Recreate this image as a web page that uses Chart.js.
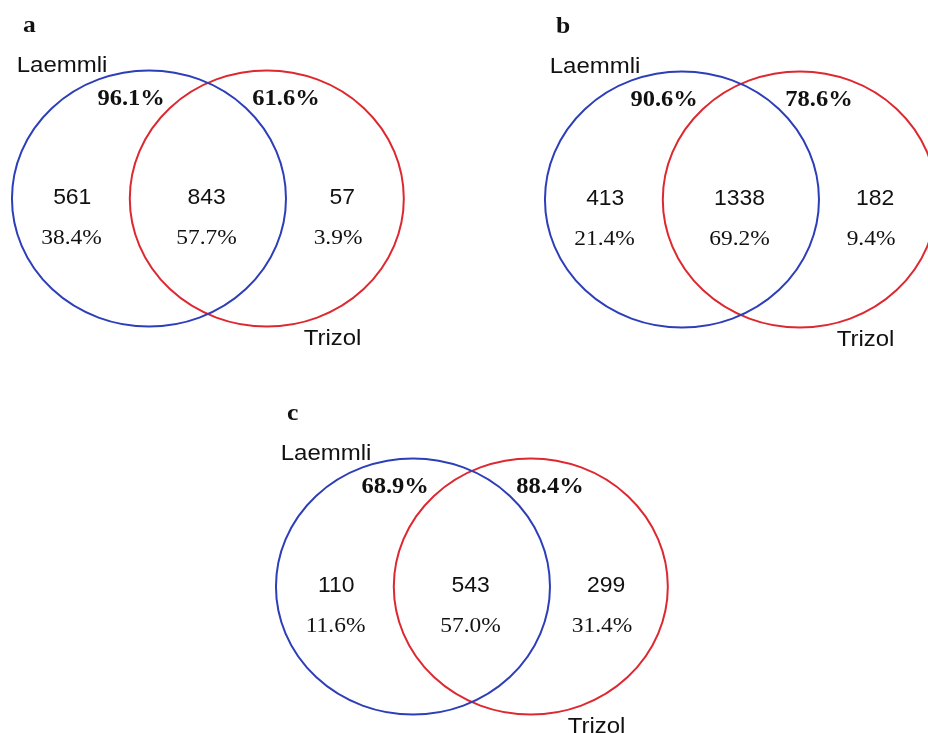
<!DOCTYPE html>
<html>
<head>
<meta charset="utf-8">
<script src="https://cdn.jsdelivr.net/npm/chart.js@4.4.1/dist/chart.umd.min.js"></script>
<style>
    html, body { margin: 0; padding: 0; background: #fff; width: 928px; height: 733px; overflow: hidden; }
    .panel { position: absolute; width: 422px; height: 365px; }
    #panelA { left: 1px; top: 0px; }
    #panelB { left: 534px; top: 1px; }
    #panelC { left: 265px; top: 388px; }
</style>
</head>
<body>
<div class="panel" id="panelA"><canvas id="vennA"></canvas></div>
<div class="panel" id="panelB"><canvas id="vennB"></canvas></div>
<div class="panel" id="panelC"><canvas id="vennC"></canvas></div>

<script>
// data
var panelLetters = ['a', 'b', 'c'];
var setNames = ['Laemmli', 'Trizol'];
var onlyLaemmli = [561, 413, 110];
var shared = [843, 1338, 543];
var onlyTrizol = [57, 182, 299];
var onlyLaemmliPct = [38.4, 21.4, 11.6];
var sharedPct = [57.7, 69.2, 57.0];
var onlyTrizolPct = [3.9, 9.4, 31.4];
var laemmliCoverage = [96.1, 90.6, 68.9];
var trizolCoverage = [61.6, 78.6, 88.4];
// circle separation, in radii
var circleOffset = 0.86;

var SANS = '"Liberation Sans", Arial, sans-serif';
var SERIF = '"Liberation Serif", "Times New Roman", serif';
// the published figure is a little wider than tall
var TEXT_STRETCH = 1.066;

var vennPlugin = {
    id: 'vennLabels',
    beforeDatasetDraw: function (chart, args) {
        var ctx = chart.ctx;
        var xs = chart.scales.x, ys = chart.scales.y;
        var ds = chart.data.datasets[args.index];

        ds.data.forEach(function (p) {
            var cx = xs.getPixelForValue(p.x), cy = ys.getPixelForValue(p.y);
            var rx = xs.getPixelForValue(p.x + p.r) - cx;
            var ry = cy - ys.getPixelForValue(p.y + p.r);
            ctx.save();
            ctx.beginPath();
            ctx.ellipse(cx, cy, rx, ry, 0, 0, Math.PI * 2);
            ctx.lineWidth = ds.borderWidth;
            ctx.strokeStyle = ds.borderColor;
            ctx.stroke();
            ctx.restore();
        });
        return false;
    },
    afterDatasetsDraw: function (chart, args, opts) {
        var i = opts.panel;
        var ctx = chart.ctx;
        var xs = chart.scales.x, ys = chart.scales.y;
        var L = 0, R = circleOffset;

        function put(text, ux, uy, font, align) {
            ctx.save();
            ctx.translate(xs.getPixelForValue(ux), ys.getPixelForValue(uy));
            ctx.scale(TEXT_STRETCH, 1);
            ctx.font = font;
            ctx.fillStyle = '#111';
            ctx.textAlign = align || 'center';
            ctx.textBaseline = 'alphabetic';
            ctx.fillText(text, 0, 0);
            ctx.restore();
        }

        put(panelLetters[i], L - 0.92, 1.30, 'bold 24px ' + SERIF, 'left');
        put(setNames[0], L - 0.965, 0.99, '22.5px ' + SANS, 'left');
        put(setNames[1], R + 0.48, -1.146, '22.5px ' + SANS);

        put(laemmliCoverage[i].toFixed(1) + '%', L - 0.13, 0.73, 'bold 23px ' + SERIF);
        put(trizolCoverage[i].toFixed(1) + '%', R + 0.14, 0.73, 'bold 23px ' + SERIF);

        put(String(onlyLaemmli[i]), L - 0.56, -0.045, '21.5px ' + SANS);
        put(onlyLaemmliPct[i].toFixed(1) + '%', L - 0.565, -0.355, '22px ' + SERIF);

        put(String(shared[i]), (L + R) / 2 - 0.01, -0.045, '21.5px ' + SANS);
        put(sharedPct[i].toFixed(1) + '%', (L + R) / 2 - 0.01, -0.355, '22px ' + SERIF);

        put(String(onlyTrizol[i]), R + 0.55, -0.045, '21.5px ' + SANS);
        put(onlyTrizolPct[i].toFixed(1) + '%', R + 0.52, -0.355, '22px ' + SERIF);
    }
};

function makeVenn(canvasId, panel) {
    return new Chart(document.getElementById(canvasId), {
        type: 'bubble',
        data: {
            datasets: [{
                label: setNames[0],
                data: [{ x: 0, y: 0, r: 1 }],
                borderWidth: 2,
                borderColor: 'rgb(45, 62, 185)',
                backgroundColor: 'rgba(0, 0, 0, 0)'
            }, {
                label: setNames[1],
                data: [{ x: circleOffset, y: 0, r: 1 }],
                borderWidth: 2,
                borderColor: 'rgb(222, 40, 48)',
                backgroundColor: 'rgba(0, 0, 0, 0)'
            }]
        },
        options: {
            responsive: true,
            maintainAspectRatio: false,
            animation: false,
            events: [],
            layout: { padding: 0, autoPadding: false },
            scales: {
                x: { type: 'linear', min: -1.08, max: 2.0, display: false },
                y: { type: 'linear', min: -1.3, max: 1.55, display: false }
            },
            plugins: {
                legend: { display: false },
                tooltip: { enabled: false },
                vennLabels: { panel: panel }
            }
        },
        plugins: [vennPlugin]
    });
}

makeVenn('vennA', 0);
makeVenn('vennB', 1);
makeVenn('vennC', 2);
</script>
</body>
</html>
